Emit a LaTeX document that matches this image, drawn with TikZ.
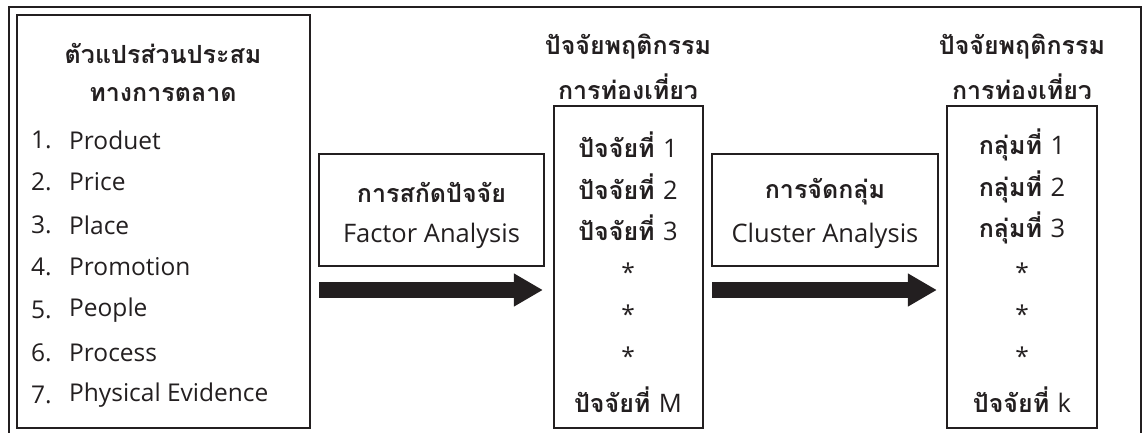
\documentclass[tikz,border=0pt]{standalone}
\usepackage{fontspec}
\setmainfont{Loma}[Script=Thai]
\newfontfamily\lat{Open Sans}
\usetikzlibrary{arrows.meta}
\definecolor{ink}{HTML}{231F20}
\newcommand{\latn}[1]{{\lat\mdseries\fontsize{25.5}{30}\selectfont #1}}
\tikzset{
  box/.style={draw=ink, line width=2.2pt, rectangle, inner sep=0pt},
  frame/.style={draw=ink, line width=2pt},
  hd/.style={text=ink, font=\fontsize{25}{30}\selectfont\bfseries, inner sep=0pt},
  lt/.style={text=ink, font=\lat\fontsize{24.5}{29}\selectfont, inner sep=0pt},
  bt/.style={text=ink, font=\lat\fontsize{25.5}{30}\selectfont, inner sep=0pt},
  bigarrow/.style={draw=ink, line width=16pt, -{Triangle[length=29pt,width=31pt]}},
}
\begin{document}
\begin{tikzpicture}[x=1pt,y=-1pt]
\useasboundingbox (0,0) rectangle (1142,433);
% outer frame (open at bottom)
\draw[frame] (9,433) -- (9,7) -- (1141,7) -- (1141,433);
% boxes
\node[box, minimum width=293pt, minimum height=413pt] (left) at (163.5,221.5) {};
\node[box, minimum width=225pt, minimum height=112pt] (fa) at (431.5,210) {};
\node[box, minimum width=149pt, minimum height=322pt] (mid) at (628.5,267) {};
\node[box, minimum width=226pt, minimum height=112pt] (ca) at (825,210) {};
\node[box, minimum width=150pt, minimum height=322pt] (right) at (1022,267) {};
% left box text
\node[hd] (lt1) at (163,53) {ตัวแปรส่วนประสม};
\node[hd] (lt2) at (163,95) {ทางการตลาด};
\foreach \n/\t/\y in {1/Produet/140,2/Price/182,3/Place/225,4/Promotion/267,5/People/310,6/Process/353,7/Physical Evidence/395}{
  \node[lt, anchor=west] (ln\n) at (31,\y) {\n.};
  \node[lt, anchor=west] (li\n) at (69,\y) {\t};
}
% factor box
\node[hd] (fa1) at (431.5,192) {การสกัดปัจจัย};
\node[bt] (fa2) at (431.5,236) {Factor Analysis};
% cluster box
\node[hd] (ca1) at (825,192) {การจัดกลุ่ม};
\node[bt] (ca2) at (825,236) {Cluster Analysis};
% middle titles
\node[hd] (mt1) at (628,47) {ปัจจัยพฤติกรรม};
\node[hd] (mt2) at (628,87) {การท่องเที่ยว};
\node[hd] (rt1) at (1022,47) {ปัจจัยพฤติกรรม};
\node[hd] (rt2) at (1022,87) {การท่องเที่ยว};
% middle items
\node[hd] (m1) at (628,145) {ปัจจัยที่ \latn{1}};
\node[hd] (m2) at (628,187) {ปัจจัยที่ \latn{2}};
\node[hd] (m3) at (628,228) {ปัจจัยที่ \latn{3}};
\node[lt] (m4) at (628,272) {*};
\node[lt] (m5) at (628,314) {*};
\node[lt] (m6) at (628,356) {*};
\node[hd] (m7) at (628,400) {ปัจจัยที่ \latn{M}};
% right items
\node[hd] (r1) at (1022,145) {กลุ่มที่ \latn{1}};
\node[hd] (r2) at (1022,187) {กลุ่มที่ \latn{2}};
\node[hd] (r3) at (1022,228) {กลุ่มที่ \latn{3}};
\node[lt] (r4) at (1022,272) {*};
\node[lt] (r5) at (1022,314) {*};
\node[lt] (r6) at (1022,356) {*};
\node[hd] (r7) at (1022,400) {ปัจจัยที่ \latn{k}};
% arrows
\coordinate (ay) at (0,290);
\draw[bigarrow, shorten <=8pt, shorten >=10pt] (left.east |- ay) -- (mid.west |- ay);
\draw[bigarrow, shorten <=8pt, shorten >=9pt] (mid.east |- ay) -- (right.west |- ay);
\end{tikzpicture}
\end{document}
